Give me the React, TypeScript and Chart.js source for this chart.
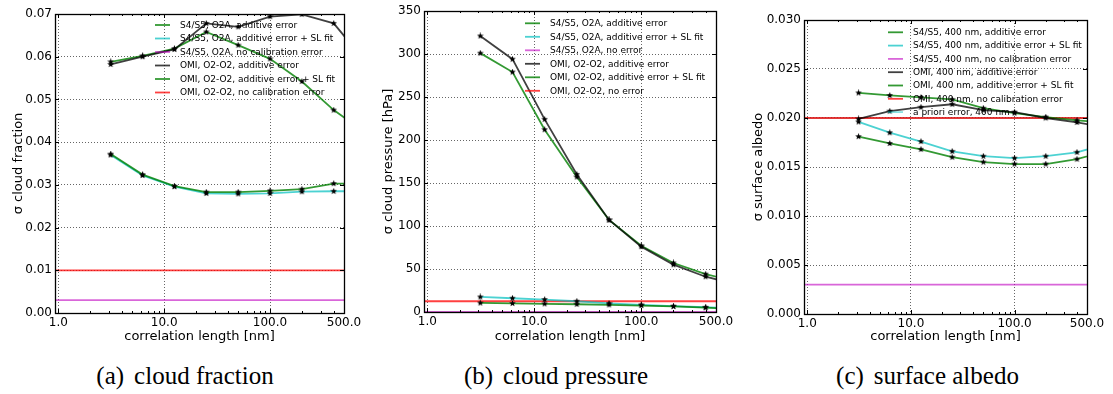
import React, { useEffect, useRef } from "react";
import { Chart, registerables } from "chart.js";
Chart.register(...registerables);

// ---------- shared x data ----------
const corrLengths = [3.125, 6.25, 12.5, 25, 50, 100, 200, 400, 800];
const xTickValues = [1, 10, 100, 500];
const xMinorTicks = [2, 3, 4, 5, 6, 7, 8, 9, 20, 30, 40, 50, 60, 70, 80, 90, 200, 300, 400];
const constLineX = [0.5, 1000];

// ---------- (a) cloud fraction ----------
const cfTicks = [0, 0.01, 0.02, 0.03, 0.04, 0.05, 0.06, 0.07];
const cfS5Additive = [0.0372, 0.0324, 0.0297, 0.0283, 0.0283, 0.0286, 0.029, 0.0303, 0.0302];
const cfS5SLFit = [0.037, 0.0322, 0.0296, 0.028, 0.0279, 0.028, 0.0284, 0.0285, 0.0285];
const cfS5NoCal = 0.003;
const cfOmiAdditive = [0.0582, 0.06, 0.0617, 0.0678, 0.067, 0.0694, 0.0699, 0.0678, 0.0588];
const cfOmiSLFit = [0.0588, 0.0602, 0.0619, 0.0658, 0.0627, 0.0595, 0.0542, 0.0475, 0.0422];
const cfOmiNoCal = 0.01;

// ---------- (b) cloud pressure ----------
const cpTicks = [0, 50, 100, 150, 200, 250, 300, 350];
const cpS5Additive = [10.5, 10, 9.5, 9, 8.3, 7.5, 6.5, 5, 3.5];
const cpS5SLFit = [17.5, 16, 14.5, 12.5, 10, 8.3, 6.8, 5.5, 4];
const cpS5NoErr = 0;
const cpOmiAdditive = [321, 294, 224, 160, 107, 76, 55, 41, 32];
const cpOmiSLFit = [301, 279, 212, 157, 107, 77, 57, 44, 35];
const cpOmiNoErr = 12.5;

// ---------- (c) surface albedo ----------
const saTicks = [0, 0.005, 0.01, 0.015, 0.02, 0.025, 0.03];
const saS5Additive = [0.0181, 0.0174, 0.0168, 0.016, 0.0155, 0.0153, 0.0153, 0.0158, 0.0167];
const saS5SLFit = [0.0196, 0.0185, 0.0176, 0.0166, 0.0161, 0.0159, 0.0161, 0.0165, 0.0174];
const saS5NoCal = 0.003;
const saOmiAdditive = [0.0199, 0.0207, 0.0211, 0.0214, 0.0208, 0.0206, 0.02, 0.01955, 0.019];
const saOmiSLFit = [0.02256, 0.0223, 0.0221, 0.0219, 0.021, 0.0205, 0.0201, 0.01976, 0.0195];
const saOmiNoCal = 0.02;
const saApriori = 0.02;

// ---------- styles ----------
const GREEN = "rgba(0,128,0,0.8)";
const CYAN = "rgba(0,191,191,0.7)";
const MAGENTA = "rgba(191,0,191,0.6)";
const BLACK = "rgba(0,0,0,0.75)";
const RED = "rgba(255,0,0,0.75)";
const APRIORI = "rgba(0,191,191,0.45)";
const FONT = "'DejaVu Sans', sans-serif";

function makeStar(size: number): HTMLCanvasElement {
  const c = document.createElement("canvas");
  c.width = size;
  c.height = size;
  const g = c.getContext("2d")!;
  const cx = size / 2, cy = size / 2, R = size / 2, r = R * 0.42;
  g.beginPath();
  for (let i = 0; i < 10; i++) {
    const ang = -Math.PI / 2 + (i * Math.PI) / 5;
    const rad = i % 2 === 0 ? R : r;
    const x = cx + rad * Math.cos(ang), y = cy + rad * Math.sin(ang);
    if (i === 0) g.moveTo(x, y); else g.lineTo(x, y);
  }
  g.closePath();
  g.fillStyle = "#000";
  g.fill();
  return c;
}

type Series = { label: string; values?: number[]; constant?: number; color: string; order?: number };

type Panel = {
  key: string;
  left: number;
  width: number;
  height: number;
  padLeft: number;
  yAxisW: number;
  padTop: number;
  padRight: number;
  xAxisH: number;
  xMin: number;
  yMax: number;
  yTicks: number[];
  yDecimals: number;
  yTitle: string;
  series: Series[];
  legend: { x0: number; y0: number; dy: number };
  caption: [string, string];
  captionCenter: number;
};

const panels: Panel[] = [
  {
    key: "a", left: 0, width: 370, height: 344,
    padLeft: 11, yAxisW: 44, padTop: 14, padRight: 26, xAxisH: 31,
    xMin: 0.93, yMax: 0.07, yTicks: cfTicks, yDecimals: 2, yTitle: "σ cloud fraction",
    series: [
      { label: "S4/S5, O2A, additive error", values: cfS5Additive, color: GREEN },
      { label: "S4/S5, O2A, additive error + SL fit", values: cfS5SLFit, color: CYAN },
      { label: "S4/S5, O2A, no calibration error", constant: cfS5NoCal, color: MAGENTA },
      { label: "OMI, O2-O2, additive error", values: cfOmiAdditive, color: BLACK },
      { label: "OMI, O2-O2, additive error + SL fit", values: cfOmiSLFit, color: GREEN },
      { label: "OMI, O2-O2, no calibration error", constant: cfOmiNoCal, color: RED },
    ],
    legend: { x0: 155, y0: 25, dy: 13.5 },
    caption: ["(a)", "cloud fraction"], captionCenter: 185,
  },
  {
    key: "b", left: 370, width: 370, height: 344,
    padLeft: 11, yAxisW: 43, padTop: 11, padRight: 24, xAxisH: 32,
    xMin: 0.93, yMax: 350, yTicks: cpTicks, yDecimals: 0, yTitle: "σ cloud pressure [hPa]",
    series: [
      { label: "S4/S5, O2A, additive error", values: cpS5Additive, color: GREEN },
      { label: "S4/S5, O2A, additive error + SL fit", values: cpS5SLFit, color: CYAN },
      { label: "S4/S5, O2A, no error", constant: cpS5NoErr, color: MAGENTA },
      { label: "OMI, O2-O2, additive error", values: cpOmiAdditive, color: BLACK },
      { label: "OMI, O2-O2, additive error + SL fit", values: cpOmiSLFit, color: GREEN },
      { label: "OMI, O2-O2, no error", constant: cpOmiNoErr, color: RED },
    ],
    legend: { x0: 155, y0: 23.3, dy: 13.5 },
    caption: ["(b)", "cloud pressure"], captionCenter: 556,
  },
  {
    key: "c", left: 740, width: 373, height: 344,
    padLeft: 11, yAxisW: 53, padTop: 20, padRight: 26, xAxisH: 30,
    xMin: 0.93, yMax: 0.03, yTicks: saTicks, yDecimals: 3, yTitle: "σ surface albedo",
    series: [
      { label: "S4/S5, 400 nm, additive error", values: saS5Additive, color: GREEN },
      { label: "S4/S5, 400 nm, additive error + SL fit", values: saS5SLFit, color: CYAN },
      { label: "S4/S5, 400 nm, no calibration error", constant: saS5NoCal, color: MAGENTA },
      { label: "OMI, 400 nm, additive error", values: saOmiAdditive, color: BLACK },
      { label: "OMI, 400 nm, additive error + SL fit", values: saOmiSLFit, color: GREEN },
      { label: "OMI, 400 nm, no calibration error", constant: saOmiNoCal, color: RED },
      { label: "a priori error, 400 nm", constant: saApriori, color: APRIORI, order: 5 },
    ],
    legend: { x0: 148, y0: 32.3, dy: 13.3 },
    caption: ["(c)", "surface albedo"], captionCenter: 927.5,
  },
];

const decorPlugin = {
  id: "decor",
  afterDatasetsDraw(chart: any, _args: any, opts: any) {
    const { ctx, chartArea: a, scales } = chart;
    const xs = scales.x, ys = scales.y;
    ctx.save();
    ctx.strokeStyle = "#000";
    ctx.lineWidth = 1;
    const seg = (x1: number, y1: number, x2: number, y2: number) => {
      ctx.beginPath(); ctx.moveTo(x1, y1); ctx.lineTo(x2, y2); ctx.stroke();
    };
    for (const v of xTickValues) {
      const px = Math.round(xs.getPixelForValue(v)) + 0.5;
      seg(px, a.bottom, px, a.bottom - 4);
      seg(px, a.top, px, a.top + 4);
    }
    for (const v of xMinorTicks) {
      const px = Math.round(xs.getPixelForValue(v)) + 0.5;
      seg(px, a.bottom, px, a.bottom - 2);
      seg(px, a.top, px, a.top + 2);
    }
    for (const v of opts.yTicks) {
      const py = Math.round(ys.getPixelForValue(v)) + 0.5;
      seg(a.left, py, a.left + 4, py);
      seg(a.right, py, a.right - 4, py);
    }
    ctx.lineWidth = 1.3;
    ctx.strokeRect(Math.round(a.left) + 0.5, Math.round(a.top) + 0.5, Math.round(a.right - a.left), Math.round(a.bottom - a.top));
    // legend
    const lg = opts.legend;
    ctx.font = `9px ${FONT}`;
    ctx.textBaseline = "middle";
    ctx.textAlign = "left";
    chart.data.datasets.forEach((ds: any, i: number) => {
      const y = lg.y0 + i * lg.dy;
      ctx.strokeStyle = ds.borderColor;
      ctx.lineWidth = ds.borderWidth;
      seg(lg.x0, y, lg.x0 + 15, y);
      ctx.fillStyle = "#000";
      ctx.fillText(ds.label, lg.x0 + 25, y + 0.5);
    });
    ctx.restore();
  },
};

function PanelChart({ p, star }: { p: Panel; star: HTMLCanvasElement | null }) {
  const ref = useRef<HTMLCanvasElement>(null);
  useEffect(() => {
    if (!ref.current || !star) return;
    const datasets = p.series.map((s) => {
      const data = s.values
        ? s.values.map((v, j) => ({ x: corrLengths[j], y: v }))
        : constLineX.map((x) => ({ x, y: s.constant as number }));
      return {
        label: s.label,
        data,
        borderColor: s.color,
        backgroundColor: s.color,
        borderWidth: 1.8,
        tension: 0,
        pointStyle: s.values ? star : false,
        pointRadius: s.values ? 3 : 0,
        pointHoverRadius: s.values ? 3 : 0,
        order: s.order ?? (s.values ? 0 : 1),
      };
    });
    const chart = new Chart(ref.current, {
      type: "line",
      data: { datasets: datasets as any },
      options: {
        animation: false,
        responsive: false,
        devicePixelRatio: 1,
        events: [],
        layout: { padding: { left: p.padLeft, top: p.padTop, right: p.padRight, bottom: 0 } },
        plugins: {
          legend: { display: false },
          tooltip: { enabled: false },
          decor: { yTicks: p.yTicks, legend: p.legend },
        } as any,
        scales: {
          x: {
            type: "logarithmic",
            min: p.xMin,
            max: 500,
            afterBuildTicks: (sc: any) => { sc.ticks = xTickValues.map((value) => ({ value })); },
            afterFit: (sc: any) => { sc.height = p.xAxisH; },
            ticks: {
              autoSkip: false, maxRotation: 0, minRotation: 0, padding: 3,
              color: "#000", font: { family: FONT, size: 12 },
              callback: (v: any) => Number(v).toFixed(1),
            },
            grid: { color: "rgba(0,0,0,0.6)", lineWidth: 1, drawTicks: false },
            border: { display: false, dash: [1, 2] },
            title: {
              display: true, text: "correlation length [nm]", color: "#000",
              font: { family: FONT, size: 13 }, padding: { top: 0, bottom: 0 },
            },
          },
          y: {
            type: "linear",
            min: 0,
            max: p.yMax,
            afterBuildTicks: (sc: any) => { sc.ticks = p.yTicks.map((value) => ({ value })); },
            afterFit: (sc: any) => { sc.width = p.yAxisW; },
            ticks: {
              padding: 3, color: "#000", font: { family: FONT, size: 12 },
              callback: (v: any) => Number(v).toFixed(p.yDecimals),
            },
            grid: { color: "rgba(0,0,0,0.6)", lineWidth: 1, drawTicks: false },
            border: { display: false, dash: [1, 2] },
            title: {
              display: true, text: p.yTitle, color: "#000",
              font: { family: FONT, size: 13 }, padding: { top: 0, bottom: 0 },
            },
          },
        },
      },
      plugins: [decorPlugin],
    });
    return () => chart.destroy();
  }, [p, star]);
  return (
    <canvas
      ref={ref}
      width={p.width}
      height={p.height}
      style={{ position: "absolute", left: p.left, top: 0, width: p.width, height: p.height }}
    />
  );
}

export default function App() {
  const [star, setStar] = React.useState<HTMLCanvasElement | null>(null);
  useEffect(() => { setStar(makeStar(7)); }, []);
  return (
    <div style={{ position: "absolute", left: 0, top: 0, width: 1113, height: 394, background: "#fff", overflow: "hidden" }}>
      {panels.map((p) => <PanelChart key={p.key} p={p} star={star} />)}
      {panels.map((p) => (
        <div
          key={"cap" + p.key}
          style={{
            position: "absolute", left: p.captionCenter - 160, width: 320, top: 363,
            textAlign: "center", fontFamily: "'Liberation Serif', 'Times New Roman', serif",
            fontSize: 25, lineHeight: "25px", color: "#000", whiteSpace: "nowrap",
          }}
        >
          {p.caption[0]}
          <span style={{ marginLeft: 10 }}>{p.caption[1]}</span>
        </div>
      ))}
    </div>
  );
}
